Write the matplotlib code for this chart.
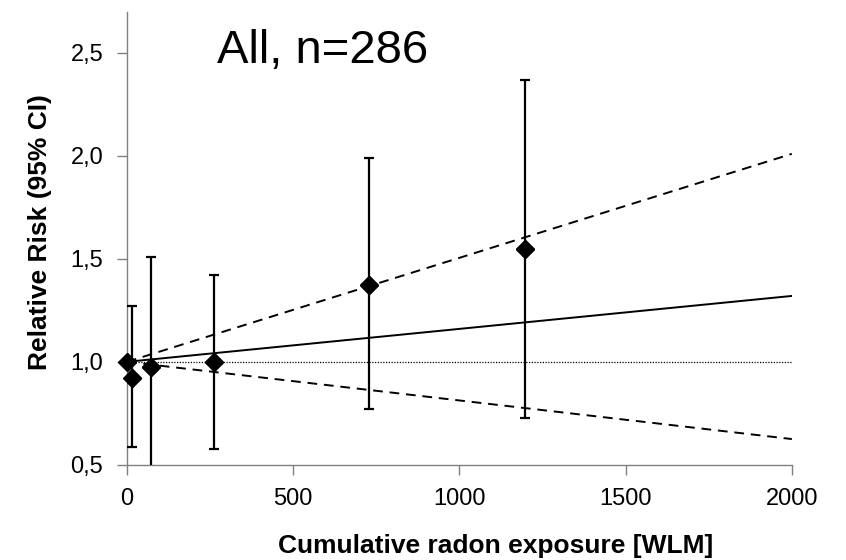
# Relative risk vs cumulative radon exposure
import numpy as np
import matplotlib.pyplot as plt

plt.rcParams['font.family'] = ['Liberation Sans', 'DejaVu Sans']

exposure = [0, 15, 72, 262, 729, 1197]
rr = [1.00, 0.92, 0.975, 1.00, 1.375, 1.55]
ci_low = [np.nan, 0.585, 0.45, 0.575, 0.77, 0.725]
ci_high = [np.nan, 1.27, 1.51, 1.42, 1.99, 2.37]

fit_x = [0, 2000]
fit_rr = [1.0, 1.32]
fit_low = [1.0, 0.625]
fit_high = [1.0, 2.01]

fig = plt.figure(figsize=(8.46, 5.6), dpi=100)
ax = fig.add_axes([0.150, 0.170, 0.786, 0.809])

ax.plot(fit_x, [1.0, 1.0], color='black', linestyle=(0, (1, 1.2)), linewidth=0.9)
ax.plot(fit_x, fit_rr, color='black', linewidth=1.4)
ax.plot(fit_x, fit_high, color='black', linestyle=(0, (5, 3.5)), linewidth=1.4)
ax.plot(fit_x, fit_low, color='black', linestyle=(0, (5, 3.5)), linewidth=1.4)

rr_arr = np.array(rr)
yerr = [rr_arr - np.array(ci_low), np.array(ci_high) - rr_arr]
ax.errorbar(exposure, rr, yerr=yerr, fmt='D', color='black', markersize=9.5,
            elinewidth=1.6, capsize=3.6, capthick=1.6, clip_on=True, zorder=3)
ax.plot(exposure, rr, 'D', color='black', markersize=9.5, clip_on=False, zorder=4)

ax.set_xlim(0, 2000)
ax.set_ylim(0.5, 2.7)
ax.set_xticks([0, 500, 1000, 1500, 2000])
ax.set_yticks([0.5, 1.0, 1.5, 2.0, 2.5])
ax.set_yticklabels(['0,5', '1,0', '1,5', '2,0', '2,5'])

for side in ['top', 'right']:
    ax.spines[side].set_visible(False)
for side in ['left', 'bottom']:
    ax.spines[side].set_color('#808080')
    ax.spines[side].set_linewidth(1.0)
ax.tick_params(direction='out', length=7, width=1.0, color='#808080',
               labelsize=17)
ax.tick_params(axis='x', pad=10)
ax.tick_params(axis='y', pad=10)

ax.set_xlabel('Cumulative radon exposure [WLM]', fontsize=19, fontweight='bold')
ax.set_ylabel('Relative Risk (95% CI)', fontsize=19, fontweight='bold')
ax.xaxis.set_label_coords(0.555, -0.179)
ax.yaxis.set_label_coords(-0.131, 0.514)
ax.xaxis.label.set_va('center')
ax.yaxis.label.set_va('center')
ax.yaxis.label.set_ha('center')

ax.text(0.135, 0.887, 'All, n=286', transform=ax.transAxes, fontsize=34,
        ha='left', va='baseline')

fig.savefig('out.png', dpi=100)
